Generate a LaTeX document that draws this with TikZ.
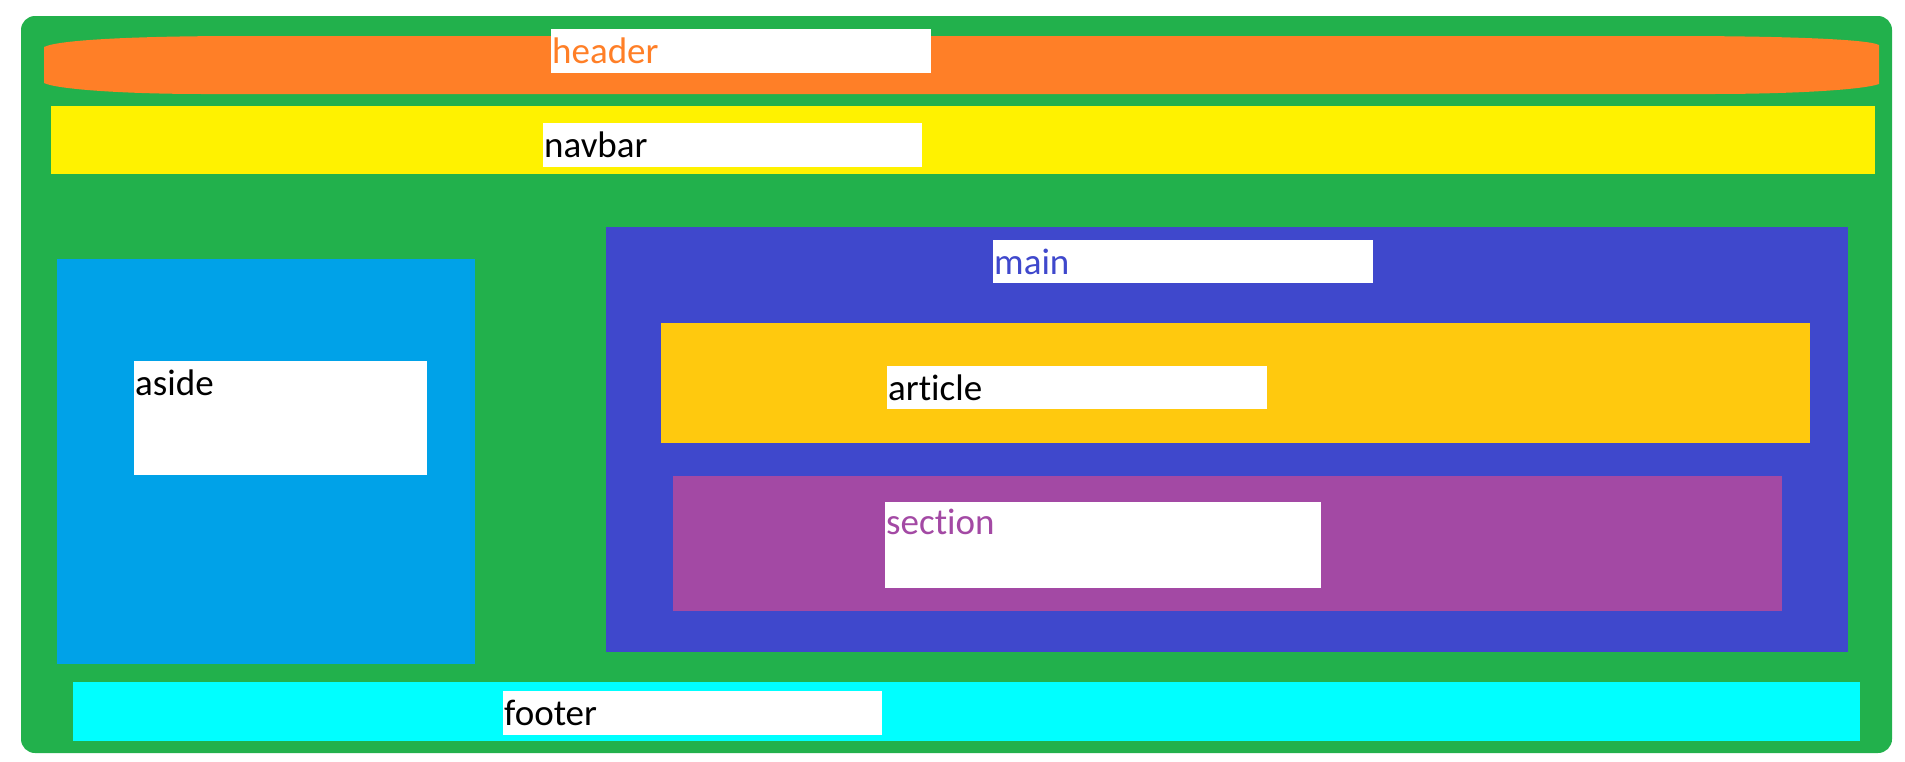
\documentclass[tikz,border=0pt]{standalone}
\usepackage{fontspec}
\setmainfont[Ligatures={NoCommon}]{Carlito}
\definecolor{pgreen}{HTML}{22B14C}
\definecolor{porange}{HTML}{FF7F27}
\definecolor{pyellow}{HTML}{FFF200}
\definecolor{pblue}{HTML}{00A2E8}
\definecolor{pindigo}{HTML}{3F48CC}
\definecolor{pgold}{HTML}{FFC90E}
\definecolor{ppurple}{HTML}{A349A4}
\definecolor{pcyan}{HTML}{00FFFF}
\begin{document}
\begin{tikzpicture}[x=1pt,y=-1pt,
  lbl/.style={anchor=base west, inner sep=0pt, font=\fontsize{37}{42}\selectfont},
  whitebox/.style={fill=white}]
\useasboundingbox (0,0) rectangle (1905,761);
% body
\fill[pgreen, rounded corners=14pt] (21,16) rectangle (1892,753);
% header
\fill[porange] (44,83) -- (44,47) .. controls (60,39) and (150,36) .. (242,36)
  -- (1673,36) .. controls (1780,36) and (1868,39) .. (1879,45)
  -- (1879,84) .. controls (1862,90) and (1790,94) .. (1711,94)
  -- (205,94) .. controls (120,94) and (56,89) .. (44,83) -- cycle;
\fill[whitebox] (551,29) rectangle (931,73);
\node[lbl, text=porange] (header) at (552,63.5) {header};
% navbar
\fill[pyellow] (51,106) rectangle (1875,174);
\fill[whitebox] (543,123) rectangle (922,167);
\node[lbl] (navbar) at (544,157.5) {navbar};
% aside
\fill[pblue] (57,259) rectangle (475,664);
\fill[whitebox] (134,361) rectangle (427,475);
\node[lbl] (aside) at (135,395) {aside};
% main
\fill[pindigo] (606,227) rectangle (1848,652);
\fill[whitebox] (993,240) rectangle (1373,283);
\node[lbl, text=pindigo] (main) at (994,274) {main};
% article
\fill[pgold] (661,323) rectangle (1810,443);
\fill[whitebox] (887,366) rectangle (1267,409);
\node[lbl] (article) at (888,400) {ar\kern0pt t\kern0pt icle};
% section
\fill[ppurple] (673,476) rectangle (1782,611);
\fill[whitebox] (885,502) rectangle (1321,588);
\node[lbl, text=ppurple] (section) at (886,534) {sec\kern0pt t\kern0pt ion};
% footer
\fill[pcyan] (73,682) rectangle (1860,741);
\fill[whitebox] (503,691) rectangle (882,735);
\node[lbl] (footer) at (504,725.5) {footer};
\end{tikzpicture}
\end{document}
